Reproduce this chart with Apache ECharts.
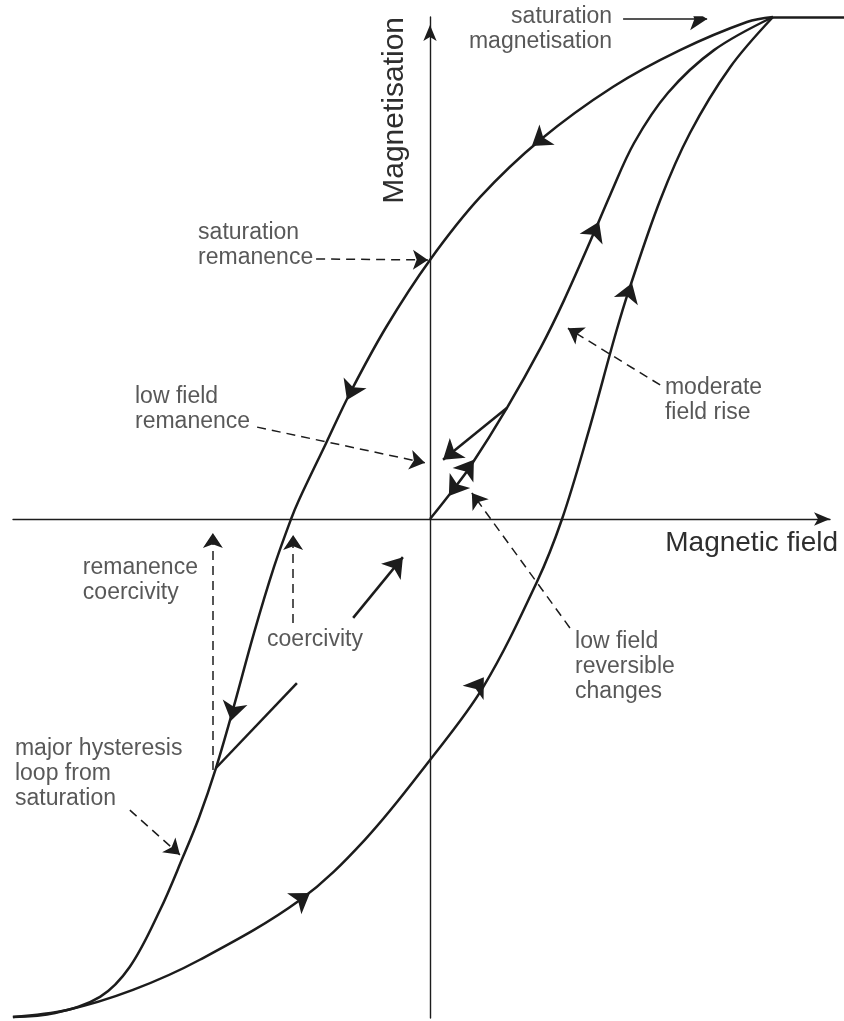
<!DOCTYPE html>
<html>
<head>
<meta charset="utf-8">
<script src="https://cdn.jsdelivr.net/npm/echarts@6/dist/echarts.min.js"></script>
<style>
html,body{margin:0;padding:0;background:#fff;}
#chart{width:844px;height:1021px;}
</style>
</head>
<body>
<div id="chart"></div>
<script>
// Units: field H normalised to the saturating field, magnetisation M normalised to saturation.
const xRange = [-1.2157, 1.1662];
const yRange = [-0.994, 1.0];

const saturationLine = [[1.000, 1.000], [1.207, 1.000]];

const descendingBranch = [
  [1.000, 1.000], [0.924, 0.990], [0.729, 0.934], [0.534, 0.861], [0.321, 0.755],
  [0.146, 0.641], [0.000, 0.516], [-0.128, 0.382], [-0.233, 0.251], [-0.303, 0.151],
  [-0.382, 0.038], [-0.405, 0.000], [-0.455, -0.096], [-0.513, -0.227], [-0.577, -0.386],
  [-0.624, -0.496], [-0.673, -0.594], [-0.720, -0.673], [-0.787, -0.779], [-0.875, -0.892],
  [-0.962, -0.952], [-1.093, -0.984], [-1.216, -0.992]
];

const ascendingBranch = [
  [-1.216, -0.992], [-1.058, -0.978], [-0.866, -0.938], [-0.671, -0.878], [-0.379, -0.759],
  [-0.190, -0.639], [0.000, -0.480], [0.155, -0.335], [0.312, -0.125], [0.385, 0.000],
  [0.461, 0.171], [0.542, 0.371], [0.580, 0.456], [0.671, 0.635], [0.758, 0.769],
  [0.875, 0.900], [1.000, 1.000]
];

const initialCurve = [
  [0.000, 0.000], [0.067, 0.058], [0.117, 0.104], [0.224, 0.221], [0.324, 0.343],
  [0.391, 0.436], [0.478, 0.570], [0.525, 0.645], [0.595, 0.749], [0.694, 0.849],
  [0.828, 0.934], [1.000, 1.000]
];

const minorLoopLine = [[-0.624, -0.496], [-0.388, -0.327]];

// solid arrows: [tail, tip]
const returnArrow = [[0.224, 0.221], [0.038, 0.118]];
const freeArrow = [[-0.224, -0.197], [-0.079, -0.076]];
const saturationArrow = [[0.563, 0.996], [0.808, 0.996]];

// arrow heads sitting on the curves: [point behind, tip]
const curveArrows = [
  [[0.379, 0.785], [0.297, 0.743]],
  [[-0.198, 0.301], [-0.242, 0.237]],
  [[-0.560, -0.339], [-0.580, -0.402]],
  [[-0.423, -0.779], [-0.350, -0.745]],
  [[0.117, -0.355], [0.157, -0.315]],
  [[0.560, 0.412], [0.589, 0.470]],
  [[0.455, 0.536], [0.493, 0.592]],
  [[0.087, 0.078], [0.128, 0.118]],
  [[0.093, 0.082], [0.055, 0.046]]
];

// dashed pointer arrows: [tail, tip]
const dashedArrows = [
  [[-0.332, 0.518], [-0.006, 0.516]],
  [[-0.504, 0.183], [-0.015, 0.112]],
  [[0.671, 0.267], [0.402, 0.380]],
  [[0.408, -0.217], [0.122, 0.052]],
  [[-0.633, -0.500], [-0.633, -0.028]],
  [[-0.399, -0.207], [-0.399, -0.032]],
  [[-0.875, -0.580], [-0.729, -0.669]]
];

const labelTexts = [
  'saturation\nmagnetisation',
  'saturation\nremanence',
  'low field\nremanence',
  'moderate\nfield rise',
  'remanence\ncoercivity',
  'coercivity',
  'low field\nreversible\nchanges',
  'major hysteresis\nloop from\nsaturation'
];
const labelAnchors = [
  [0.531, 0.975], [-0.676, 0.545], [-0.860, 0.218], [0.685, 0.236],
  [-1.012, -0.121], [-0.475, -0.241], [0.423, -0.295], [-1.210, -0.508]
];
const labelAligns = ['right', 'left', 'left', 'left', 'left', 'left', 'left', 'left'];

const axisTitles = { x: 'Magnetic field', y: 'Magnetisation' };

const INK = '#1c1c1c';
const TEXT = '#2e2e2e';
const FONT = 'Liberation Sans';

const curveStyle = { color: INK, width: 2.5 };

function lineSeries(data) {
  return {
    type: 'line', data: data, smooth: 0.35, showSymbol: false, symbol: 'none',
    clip: false, lineStyle: curveStyle, silent: true, z: 3
  };
}

const option = {
  animation: false,
  backgroundColor: '#ffffff',
  grid: { left: 13, right: 14, top: 17, bottom: 3, containLabel: false },
  xAxis: {
    type: 'value', min: xRange[0], max: xRange[1],
    axisLine: { onZero: true, symbol: ['none', 'arrow'], symbolSize: [10, 16],
      lineStyle: { color: INK, width: 1.4 } },
    axisTick: { show: false }, axisLabel: { show: false }, splitLine: { show: false },
    name: axisTitles.x, nameLocation: 'end', nameGap: 8,
    nameTextStyle: { fontFamily: FONT, fontSize: 28, color: TEXT, align: 'right',
      verticalAlign: 'top', padding: [10, 0, 0, 0] }
  },
  yAxis: {
    type: 'value', min: yRange[0], max: yRange[1],
    axisLine: { onZero: true, symbol: ['none', 'arrow'], symbolSize: [10, 16],
      symbolOffset: [0, -8], lineStyle: { color: INK, width: 1.4 } },
    axisTick: { show: false }, axisLabel: { show: false }, splitLine: { show: false },
    name: axisTitles.y, nameLocation: 'end', nameGap: 0, nameRotate: 90,
    nameTextStyle: { fontFamily: FONT, fontSize: 30, color: TEXT, align: 'right',
      verticalAlign: 'bottom', padding: [0, 0, 20, 0] }
  },
  series: [
    lineSeries(descendingBranch),
    lineSeries(ascendingBranch),
    lineSeries(initialCurve),
    {
      type: 'lines', coordinateSystem: 'cartesian2d', silent: true, z: 4, clip: false,
      symbol: ['none', 'none'],
      lineStyle: { color: INK, width: 2.5, opacity: 1 },
      data: [{ coords: minorLoopLine }, { coords: saturationLine }]
    },
    {
      type: 'lines', coordinateSystem: 'cartesian2d', silent: true, z: 5,
      symbol: ['none', 'arrow'], symbolSize: [13, 19],
      lineStyle: { color: INK, width: 2.5, opacity: 1 },
      data: [{ coords: returnArrow }, { coords: freeArrow }]
    },
    {
      type: 'lines', coordinateSystem: 'cartesian2d', silent: true, z: 5,
      symbol: ['none', 'arrow'], symbolSize: [13, 19],
      lineStyle: { color: INK, width: 0, opacity: 1 },
      data: curveArrows.map(function (a) { return { coords: a }; })
    },
    {
      type: 'lines', coordinateSystem: 'cartesian2d', silent: true, z: 5,
      symbol: ['none', 'arrow'], symbolSize: [11, 17],
      lineStyle: { color: INK, width: 1.6, opacity: 1 },
      data: [{ coords: saturationArrow }]
    },
    {
      type: 'lines', coordinateSystem: 'cartesian2d', silent: true, z: 5,
      symbol: ['none', 'arrow'], symbolSize: [10, 15],
      lineStyle: { color: INK, width: 1.5, opacity: 1, type: [9, 6] },
      data: dashedArrows.map(function (a) { return { coords: a }; })
    },
    {
      type: 'scatter', silent: true, z: 6, symbolSize: 1,
      itemStyle: { color: 'rgba(0,0,0,0)' },
      data: labelTexts.map(function (t, i) {
        return {
          value: labelAnchors[i], name: t,
          label: {
            show: true, position: 'inside', formatter: t,
            align: labelAligns[i], verticalAlign: 'middle',
            fontFamily: FONT, fontSize: 23, lineHeight: 25, color: TEXT
          }
        };
      })
    }
  ]
};

const chart = echarts.init(document.getElementById('chart'), null, { renderer: 'canvas' });
chart.setOption(option);
</script>
</body>
</html>
